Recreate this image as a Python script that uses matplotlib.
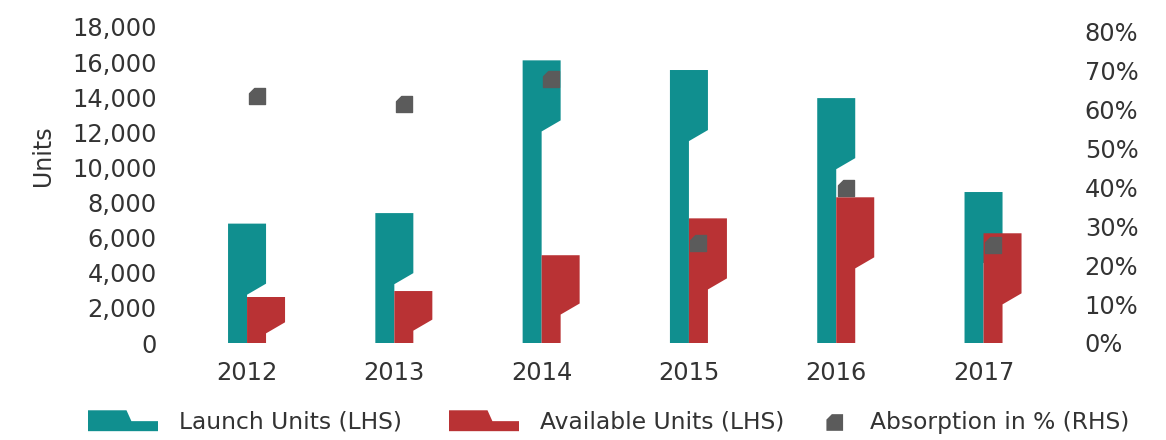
import numpy as np
import matplotlib.pyplot as plt
from matplotlib.patches import Polygon
from matplotlib.path import Path
from matplotlib.legend_handler import HandlerPatch
from matplotlib.ticker import FuncFormatter

# data
years = ['2012', '2013', '2014', '2015', '2016', '2017']
launch_units = [6800, 7400, 16100, 15550, 13950, 8600]
available_units = [2620, 2960, 5000, 7100, 8300, 6250]
absorption_pct = [63.6, 61.6, 67.9, 25.6, 39.8, 25.2]
legend_labels = ['Launch Units (LHS)', 'Available Units (LHS)', 'Absorption in % (RHS)']

TEAL = '#108f8f'
RED = '#b93234'
GREY = '#5b5b5b'
TEXT = '#333333'

bar_w = 0.258        # bar width in category units
notch_depth = 3420   # distance from bar top to the step, in units
notch_drop = 630     # vertical size of the diagonal step

plt.rcParams['font.family'] = ['DejaVu Sans']

# square with the top-left corner cut off
chamfer = Path([(-1, -1), (1, -1), (1, 1), (-0.35, 1), (-1, 0.35), (-1, -1)],
               [Path.MOVETO, Path.LINETO, Path.LINETO, Path.LINETO, Path.LINETO,
                Path.CLOSEPOLY])


def notched_bar(x0, w, h):
    d = min(notch_depth, 0.55 * h)
    return [(x0, 0), (x0 + w / 2, 0), (x0 + w / 2, h - d - notch_drop),
            (x0 + w, h - d), (x0 + w, h), (x0, h)]


def legend_step(legend, orig_handle, xdescent, ydescent, width, height, fontsize):
    x0, y0 = -xdescent, -ydescent
    pts = [(x0, y0), (x0 + width, y0), (x0 + width, y0 + 0.48 * height),
           (x0 + 0.62 * width, y0 + 0.48 * height), (x0 + 0.55 * width, y0 + height),
           (x0, y0 + height)]
    return Polygon(pts, closed=True)


def legend_chamfer(legend, orig_handle, xdescent, ydescent, width, height, fontsize):
    s = 0.36 * height
    cx = -xdescent + 0.5 * width
    cy = -ydescent + 0.45 * height
    pts = [(cx + s * vx, cy + s * vy) for vx, vy in chamfer.vertices[:-1]]
    return Polygon(pts, closed=True)


fig = plt.figure(figsize=(11.66, 4.4), dpi=100)
ax = fig.add_axes([165 / 1166, 1 - 343 / 440, 910 / 1166, 316 / 440])
ax2 = ax.twinx()

x = np.arange(len(years))
for i in x:
    ax.add_patch(Polygon(notched_bar(i - bar_w / 2, bar_w, launch_units[i]),
                         closed=True, facecolor=TEAL, edgecolor='none', zorder=2))
for i in x:
    ax.add_patch(Polygon(notched_bar(i, bar_w, available_units[i]),
                         closed=True, facecolor=RED, edgecolor='none', zorder=3))

ax2.plot(x + bar_w / 4, absorption_pct, linestyle='none', marker=chamfer,
         markersize=11.5, color=GREY, zorder=4)

ax.set_xlim(-0.557, 5.621)
ax.set_ylim(0, 18000)
ax.set_yticks(np.arange(0, 18001, 2000))
ax.yaxis.set_major_formatter(FuncFormatter(lambda v, p: f'{v:,.0f}'))
ax.set_xticks(x)
ax.set_xticklabels(years)
ax2.set_ylim(0, 80 * 316 / 311)
ax2.set_yticks(np.arange(0, 81, 10))
ax2.yaxis.set_major_formatter(FuncFormatter(lambda v, p: f'{v:.0f}%'))

for a in (ax, ax2):
    for s in a.spines.values():
        s.set_visible(False)
ax.tick_params(axis='both', length=0, labelsize=17.4, colors=TEXT)
ax.tick_params(axis='y', pad=6)
ax.tick_params(axis='x', pad=13)
ax2.tick_params(axis='y', length=0, labelsize=17.4, colors=TEXT, pad=7)
ax.set_zorder(ax2.get_zorder() - 1)
ax.patch.set_visible(False)

fig.text(43 / 1166, 1 - 156 / 440, 'Units', rotation=90, ha='center',
         va='center', fontsize=17, color=TEXT)

# one legend per entry so each handle sits where it does in the original
entries = [(TEAL, legend_step, 88, 3.0, 0.9, 1.0),
           (RED, legend_step, 449, 3.0, 0.9, 1.0),
           (GREY, legend_chamfer, 826, 0.75, 1.15, 1.15)]
for (col, func, left, hlen, tpad, hh), lab in zip(entries, legend_labels):
    h = Polygon([(0, 0)], facecolor=col, edgecolor='none')
    fig.legend([h], [lab], handler_map={h: HandlerPatch(patch_func=func)},
               loc='center left', bbox_to_anchor=(left / 1166, 1 - 422 / 440),
               frameon=False, fontsize=16.8, labelcolor=TEXT,
               borderpad=0, borderaxespad=0, handlelength=hlen, handleheight=hh,
               handletextpad=tpad)

fig.savefig('out.png', dpi=100)
